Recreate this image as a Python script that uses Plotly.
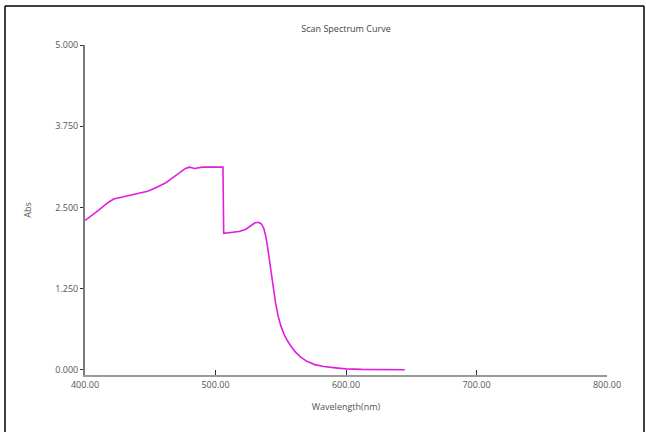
import plotly.graph_objects as go

# Scanned absorbance spectrum
wavelength_nm = [400.0, 403.0, 406.0, 410.0, 414.0, 418.0, 422.0, 428.0, 435.0, 442.0,
                 448.0, 453.0, 458.0, 462.0, 466.0, 470.0, 474.0, 477.0, 480.0, 484.0,
                 490.0, 498.0, 505.7, 506.3, 512.0, 518.0, 523.0, 527.0, 530.0, 532.5,
                 535.0, 537.0, 538.5, 540.0, 542.0, 544.0, 546.0, 548.0, 550.0, 552.5,
                 555.0, 558.0, 561.0, 565.0, 570.0, 576.0, 583.0, 592.0, 600.0, 612.0,
                 625.0, 645.0]
absorbance = [2.30, 2.34, 2.39, 2.45, 2.52, 2.58, 2.63, 2.66, 2.69, 2.72,
              2.75, 2.79, 2.84, 2.88, 2.94, 3.00, 3.06, 3.10, 3.12, 3.10,
              3.12, 3.12, 3.12, 2.10, 2.11, 2.13, 2.16, 2.21, 2.26, 2.27,
              2.25, 2.18, 2.06, 1.88, 1.58, 1.28, 1.03, 0.83, 0.68, 0.55,
              0.45, 0.36, 0.28, 0.20, 0.13, 0.08, 0.05, 0.03, 0.015, 0.006,
              0.002, 0.0]

x_ticks = [400, 500, 600, 700, 800]
x_tick_text = ["400.00", "500.00", "600.00", "700.00", "800.00"]
y_ticks = [0, 1.25, 2.5, 3.75, 5.0]
y_tick_text = ["0.000", "1.250", "2.500", "3.750", "5.000"]

W, H = 646, 432
ML, MR, MT, MB = 85, 39, 45, 57

fig = go.Figure()
fig.add_trace(go.Scatter(
    x=wavelength_nm, y=absorbance, mode="lines",
    line=dict(color="#e01ee0", width=1.6),
    showlegend=False,
))

font = dict(family="Open Sans, Noto Sans, sans-serif", size=9, color="#555555")

fig.update_layout(
    width=W, height=H,
    margin=dict(l=ML, r=MR, t=MT, b=MB),
    paper_bgcolor="white", plot_bgcolor="white",
    font=font,
    title=dict(text="Scan Spectrum Curve", x=346 / W, xanchor="center",
               y=1 - 29 / H, yanchor="middle", font=dict(size=9, color="#444444")),
    xaxis=dict(
        range=[400, 800], tickvals=x_ticks, ticktext=x_tick_text,
        showgrid=False, zeroline=False, showline=True, linecolor="#9a9a9a", linewidth=2,
        ticks="inside", ticklen=5, tickcolor="#333333", tickwidth=1,
        title=dict(text="Wavelength(nm)", standoff=14, font=dict(size=9, color="#555555")),
        tickfont=dict(size=9, color="#555555"),
    ),
    yaxis=dict(
        range=[-0.08, 5.0], tickvals=y_ticks, ticktext=y_tick_text,
        showgrid=False, zeroline=False, showline=True, linecolor="#7a7a7a", linewidth=2,
        ticks="outside", ticklen=3, tickcolor="#333333", tickwidth=1,
        title=dict(text="Abs", standoff=22, font=dict(size=9, color="#555555")),
        tickfont=dict(size=9, color="#555555"),
    ),
)

# Window frame: left, top and right edges
px = lambda v: (v - ML) / (W - ML - MR)
py = lambda v: (H - MB - v) / (H - MT - MB)
x0, x1, y0, y1 = px(5), px(644), py(433), py(6)
for a, b, c, d in [(x0, y0, x0, y1), (x0, y1, x1, y1), (x1, y1, x1, y0)]:
    fig.add_shape(type="line", xref="paper", yref="paper", x0=a, y0=b, x1=c, y1=d,
                  line=dict(color="black", width=1.5))

fig.write_html("out.html")
